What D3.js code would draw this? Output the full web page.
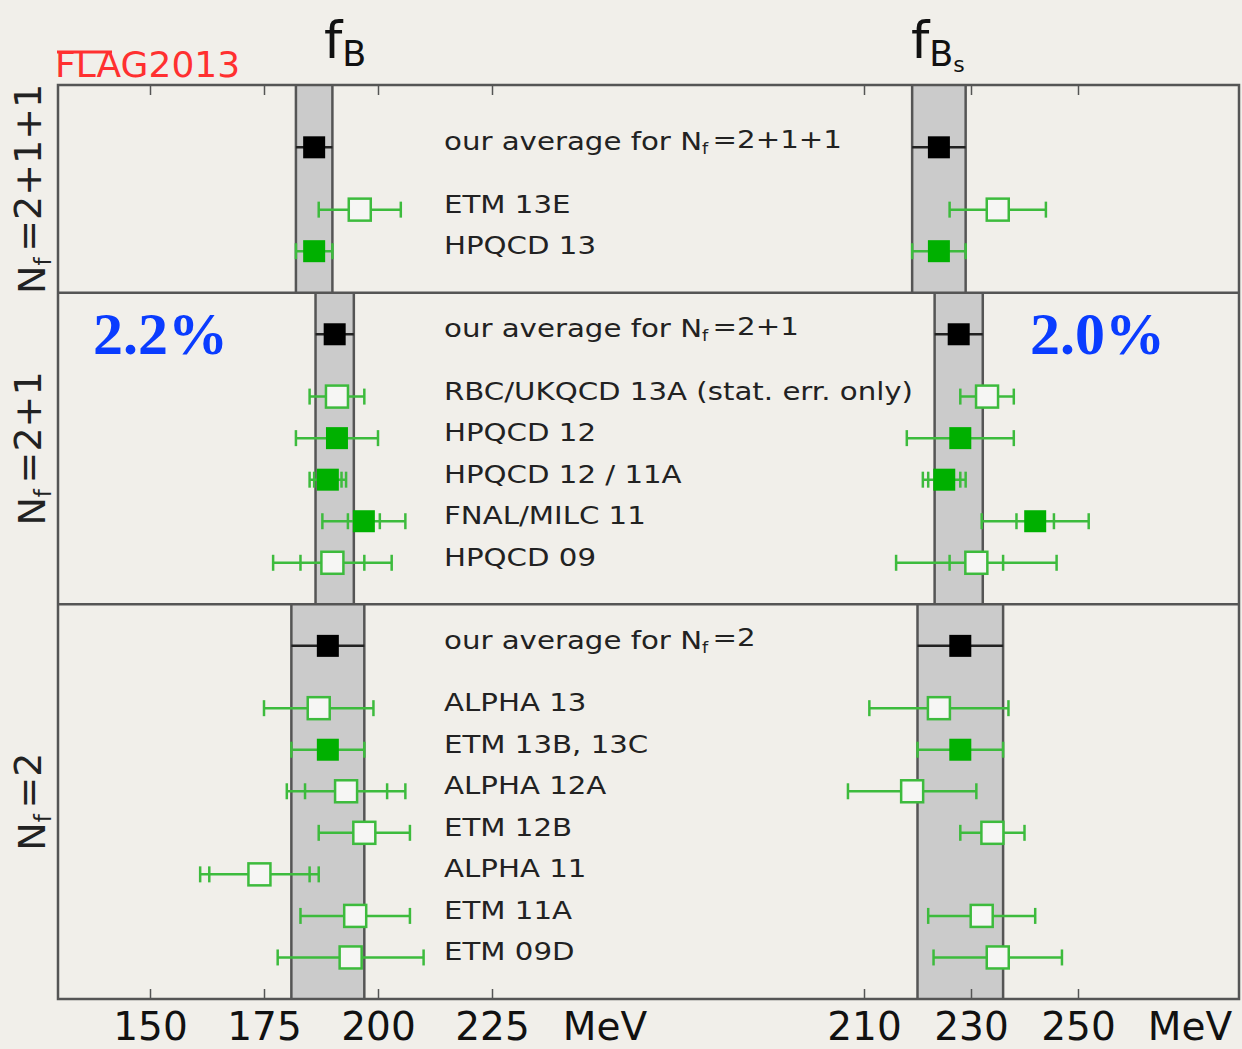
<!DOCTYPE html>
<html>
<head>
<meta charset="utf-8">
<script src="https://cdn.jsdelivr.net/npm/d3@7"></script>
<style>
  body { margin: 0; background: #f1efea; }
  svg { display: block; }
</style>
</head>
<body>
<div id="Chart"></div>
<script>
var svgWidth = 1242;
var svgHeight = 1049;

// rows, top to bottom
var rowName = ["our average for N_f=2+1+1", "ETM 13E", "HPQCD 13",
  "our average for N_f=2+1", "RBC/UKQCD 13A (stat. err. only)", "HPQCD 12", "HPQCD 12 / 11A", "FNAL/MILC 11", "HPQCD 09",
  "our average for N_f=2", "ALPHA 13", "ETM 13B, 13C", "ALPHA 12A", "ETM 12B", "ALPHA 11", "ETM 11A", "ETM 09D"];
var rowPanel = [0, 0, 0, 1, 1, 1, 1, 1, 1, 2, 2, 2, 2, 2, 2, 2, 2];
var rowKind = ["avg", "open", "fill", "avg", "open", "fill", "fill", "fill", "open",
  "avg", "open", "fill", "open", "open", "open", "open", "open"];

var fB     = [186, 196, 186, 190.5, 191, 191, 189, 196.9, 190, 189, 187, 189, 193, 197, 174, 195, 194];
var fBErr  = [4, 9, 4, 4.2, 6, 9, 4, 9.1, 13, 8, 12, 8, 13, 10, 13, 12, 16];
var fBStat = [null, null, null, null, null, null, 3, 3.5, 7, null, null, null, 9, null, 11, null, null];

var fBs     = [224, 235, 224, 227.7, 233, 228, 225, 242, 231, 228, 224, 228, 219, 234, null, 232, 235];
var fBsErr  = [5, 9, 5, 4.5, 5, 10, 4, 10, 15, 8, 13, 8, 12, 6, null, 10, 12];
var fBsStat = [null, null, null, null, null, null, 3, 3.5, 5, null, null, null, null, null, null, null, null];

var panelLabel = ["2+1+1", "2+1", "2"];
var fBTicks = [150, 175, 200, 225];
var fBsTicks = [210, 230, 250];
var percentLabel = ["2.2%", "2.0%"];

var frame = { left: 58, right: 1239, top: 85, bottom: 999 };

// slot positions: average row, gap, then the results
var rowSlot = [];
var panelTop = [0], panelBottom = [];
var slot = 0;
panelLabel.forEach(function (p, pi) {
  slot += (pi == 0 ? 1.5 : 1);
  var first = true;
  rowPanel.forEach(function (rp, i) {
    if (rp != pi) return;
    rowSlot[i] = slot;
    slot += first ? 1.5 : 1;
    first = false;
  });
  panelBottom.push(slot);
  panelTop.push(slot);
});
panelTop.pop();

var svg = d3.select("#Chart")
  .append("svg")
  .attr("width", svgWidth)
  .attr("height", svgHeight);

var y = d3.scaleLinear().domain([0, slot]).range([frame.top, frame.bottom]);
var xB = d3.scaleLinear().domain([150, 225]).range([150, 492]);
var xBs = d3.scaleLinear().domain([210, 250]).range([864, 1078]);

var green = "#3dbb3d";
var greenFill = "#00b000";
var edge = "#555";

// averaging bands
function bands(x, val, err) {
  panelLabel.forEach(function (p, pi) {
    var ai = rowKind.findIndex((k, i) => k == "avg" && rowPanel[i] == pi);
    var x0 = x(val[ai] - err[ai]), x1 = x(val[ai] + err[ai]);
    svg.append("rect")
      .attr("x", x0).attr("y", y(panelTop[pi]))
      .attr("width", x1 - x0).attr("height", y(panelBottom[pi]) - y(panelTop[pi]))
      .attr("fill", "#cbcbcb");
    [x0, x1].forEach(function (xx) {
      svg.append("line")
        .attr("x1", xx).attr("x2", xx)
        .attr("y1", y(panelTop[pi])).attr("y2", y(panelBottom[pi]))
        .attr("stroke", edge).attr("stroke-width", 2.5);
    });
  });
}
bands(xB, fB, fBErr);
bands(xBs, fBs, fBsErr);

// frame, panel separators
svg.append("rect")
  .attr("x", frame.left).attr("y", frame.top)
  .attr("width", frame.right - frame.left).attr("height", frame.bottom - frame.top)
  .attr("fill", "none").attr("stroke", edge).attr("stroke-width", 2.5);
panelBottom.slice(0, -1).forEach(function (s) {
  svg.append("line")
    .attr("x1", frame.left).attr("x2", frame.right)
    .attr("y1", y(s)).attr("y2", y(s))
    .attr("stroke", edge).attr("stroke-width", 2.5);
});

// axes
function axes(x, ticks) {
  var bottom = svg.append("g")
    .attr("transform", `translate(0, ${frame.bottom})`)
    .call(d3.axisBottom(x).tickValues(ticks).tickSize(-10).tickPadding(13));
  var top = svg.append("g")
    .attr("transform", `translate(0, ${frame.top})`)
    .call(d3.axisTop(x).tickValues(ticks).tickSize(-10).tickFormat(""));
  [bottom, top].forEach(function (g) {
    g.select(".domain").remove();
    g.selectAll("line").attr("stroke", edge).attr("stroke-width", 1.5);
  });
  bottom.selectAll("text")
    .attr("font-family", "DejaVu Sans").attr("font-size", 39).attr("fill", "#111");
}
axes(xB, fBTicks);
axes(xBs, fBsTicks);

svg.append("text").attr("x", 605).attr("y", 1040).attr("text-anchor", "middle")
  .attr("font-family", "DejaVu Sans").attr("font-size", 39).attr("fill", "#111").text("MeV");
svg.append("text").attr("x", 1190).attr("y", 1040).attr("text-anchor", "middle")
  .attr("font-family", "DejaVu Sans").attr("font-size", 39).attr("fill", "#111").text("MeV");

// error bars and markers
function points(x, val, err, stat) {
  var g = svg.append("g");
  rowName.forEach(function (n, i) {
    if (val[i] == null) return;
    var cy = y(rowSlot[i]);
    var avg = rowKind[i] == "avg";
    var col = avg ? "#222" : green;
    g.append("line")
      .attr("x1", x(val[i] - err[i])).attr("x2", x(val[i] + err[i]))
      .attr("y1", cy).attr("y2", cy)
      .attr("stroke", col).attr("stroke-width", 2.5);
    if (!avg) {
      var caps = [val[i] - err[i], val[i] + err[i]];
      if (stat[i] != null) caps.push(val[i] - stat[i], val[i] + stat[i]);
      caps.forEach(function (c) {
        g.append("line")
          .attr("x1", x(c)).attr("x2", x(c))
          .attr("y1", cy - 8).attr("y2", cy + 8)
          .attr("stroke", col).attr("stroke-width", 2.5);
      });
    }
    var s = 22;
    g.append("rect")
      .attr("x", x(val[i]) - s / 2).attr("y", cy - s / 2)
      .attr("width", s).attr("height", s)
      .attr("fill", avg ? "#000" : (rowKind[i] == "fill" ? greenFill : "#f6f6f4"))
      .attr("stroke", avg ? "none" : (rowKind[i] == "fill" ? greenFill : green))
      .attr("stroke-width", rowKind[i] == "open" ? 2.5 : 0);
  });
}
points(xB, fB, fBErr, fBStat);
points(xBs, fBs, fBsErr, fBsStat);

// row labels
function subText(sel, str, sub) {
  var parts = str.split("_" + sub);
  sel.append("tspan").text(parts[0]);
  if (parts.length > 1) {
    sel.append("tspan").attr("font-size", "60%").attr("dy", "0.25em").text(sub);
    sel.append("tspan").attr("dy", "-0.25em").attr("dx", "0.15em").text(parts[1]);
  }
}
rowName.forEach(function (n, i) {
  var t = svg.append("text")
    .attr("transform", `translate(444, ${y(rowSlot[i]) + 3}) scale(1.17, 1)`)
    .attr("font-family", "DejaVu Sans").attr("font-size", 25).attr("fill", "#222");
  subText(t, n, "f");
});

// Nf labels on the left
panelLabel.forEach(function (p, pi) {
  var cy = (y(panelTop[pi]) + y(panelBottom[pi])) / 2;
  var t = svg.append("text")
    .attr("transform", `translate(45, ${cy}) rotate(-90)`)
    .attr("text-anchor", "middle")
    .attr("font-family", "DejaVu Sans").attr("font-size", 38).attr("fill", "#222");
  subText(t, "N_f=" + p, "f");
});

// titles
var t1 = svg.append("text").attr("x", 324).attr("y", 58)
  .attr("font-family", "DejaVu Sans").attr("font-size", 52).attr("fill", "#111");
t1.append("tspan").text("f");
t1.append("tspan").attr("font-size", 35).attr("dy", 8).text("B");
var t2 = svg.append("text").attr("x", 911).attr("y", 58)
  .attr("font-family", "DejaVu Sans").attr("font-size", 52).attr("fill", "#111");
t2.append("tspan").text("f");
t2.append("tspan").attr("font-size", 35).attr("dy", 8).text("B");
t2.append("tspan").attr("font-size", 22).attr("dy", 6).text("s");

// FLAG logo
svg.append("text").attr("x", 55).attr("y", 77)
  .attr("font-family", "DejaVu Sans").attr("font-size", 36).attr("fill", "#ff3030")
  .text("FLAG2013");
svg.append("line").attr("x1", 57).attr("x2", 112).attr("y1", 52).attr("y2", 52)
  .attr("stroke", "#ff3030").attr("stroke-width", 3);

// precision labels
svg.append("text").attr("x", 93).attr("y", 354)
  .attr("font-family", "Liberation Serif").attr("font-weight", "bold")
  .attr("font-size", 60).attr("fill", "#0a3cff").text(percentLabel[0]);
svg.append("text").attr("x", 1030).attr("y", 354)
  .attr("font-family", "Liberation Serif").attr("font-weight", "bold")
  .attr("font-size", 60).attr("fill", "#0a3cff").text(percentLabel[1]);
</script>
</body>
</html>
